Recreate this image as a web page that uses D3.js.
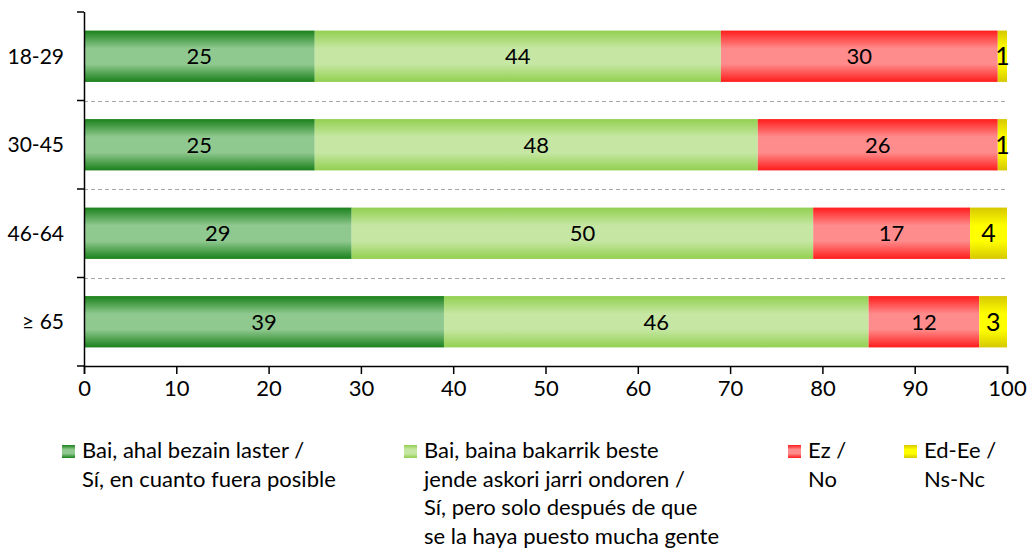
<!DOCTYPE html>
<html>
<head>
<meta charset="utf-8">
<script src="https://cdn.jsdelivr.net/npm/d3@7"></script>
<style>
  body { margin: 0; background: #fff; }
  text { font-family: Lato, "Open Sans", sans-serif; fill: #000; }
</style>
</head>
<body>
<div id="chart"></div>
<script>
const groups = ["18-29", "30-45", "46-64", "≥ 65"];
const asap = [25, 25, 29, 39];
const afterOthers = [44, 48, 50, 46];
const no = [30, 26, 17, 12];
const dkna = [1, 1, 4, 3];
const xTicks = [0, 10, 20, 30, 40, 50, 60, 70, 80, 90, 100];

const legendLabels = [
  ["Bai, ahal bezain laster /", "Sí, en cuanto fuera posible"],
  ["Bai, baina bakarrik beste", "jende askori jarri ondoren /", "Sí, pero solo después de que", "se la haya puesto mucha gente"],
  ["Ez /", "No"],
  ["Ed-Ee /", "Ns-Nc"]
];

const width = 1031, height = 548;
const margin = { top: 12, right: 24, bottom: 182, left: 84 };

const svg = d3.select("#chart").append("svg")
  .attr("width", width)
  .attr("height", height);

// gradients: dark edges, light middle
const colours = [
  { id: "g0", edge: "#1a811a", mid: "#90c990" },
  { id: "g1", edge: "#92d050", mid: "#c6e7a3" },
  { id: "g2", edge: "#ff1c1c", mid: "#ff8c8c" },
  { id: "g3", edge: "#d6c800", mid: "#ffff00" }
];
const defs = svg.append("defs");
colours.forEach(c => {
  const g = defs.append("linearGradient")
    .attr("id", c.id).attr("x1", 0).attr("y1", 0).attr("x2", 0).attr("y2", 1);
  g.append("stop").attr("offset", "0%").attr("stop-color", c.edge);
  g.append("stop").attr("offset", "35%").attr("stop-color", c.mid);
  g.append("stop").attr("offset", "65%").attr("stop-color", c.mid);
  g.append("stop").attr("offset", "100%").attr("stop-color", c.edge);
});

const x = d3.scaleLinear().domain([0, 100]).range([margin.left, width - margin.right]);
const y = d3.scaleBand().domain(groups).range([margin.top, height - margin.bottom]).paddingInner(0.42).paddingOuter(0.21);

const series = [asap, afterOthers, no, dkna];
const rows = groups.map((g, i) => {
  let acc = 0;
  return series.map((s, k) => {
    const d = { group: g, k: k, v: s[i], x0: acc, x1: acc + s[i] };
    acc += s[i];
    return d;
  });
});

// dashed separators between categories
const step = y.step();
svg.append("g").selectAll("line")
  .data(groups.slice(1))
  .enter().append("line")
  .attr("x1", margin.left).attr("x2", x(100))
  .attr("y1", d => Math.round(y(d) - step * 0.21) + 0.5)
  .attr("y2", d => Math.round(y(d) - step * 0.21) + 0.5)
  .attr("stroke", "#a6a6a6")
  .attr("stroke-dasharray", "4,3");

// bars
const rowG = svg.append("g").selectAll("g")
  .data(rows)
  .enter().append("g");

rowG.selectAll("rect")
  .data(d => d)
  .enter().append("rect")
  .attr("x", d => x(d.x0))
  .attr("y", d => y(d.group))
  .attr("width", d => x(d.x1) - x(d.x0))
  .attr("height", y.bandwidth())
  .attr("fill", d => "url(#" + colours[d.k].id + ")");

rowG.selectAll("text")
  .data(d => d)
  .enter().append("text")
  .attr("x", d => (x(d.x0) + x(d.x1)) / 2)
  .attr("y", d => y(d.group) + y.bandwidth() / 2)
  .attr("dy", "0.36em")
  .attr("text-anchor", "middle")
  .style("font-size", d => d.k === 3 ? "25px" : "22px")
  .text(d => d.v);

// left axis
const yAxis = svg.append("g").attr("transform", `translate(${margin.left},0)`);
yAxis.append("line")
  .attr("x1", 0.5).attr("x2", 0.5)
  .attr("y1", margin.top).attr("y2", height - margin.bottom)
  .attr("stroke", "#000").attr("stroke-width", 1.5);
const boundaries = d3.range(groups.length + 1).map(i => margin.top + i * step);
yAxis.selectAll("line.tick")
  .data(boundaries)
  .enter().append("line")
  .attr("class", "tick")
  .attr("x1", -7).attr("x2", 0)
  .attr("y1", d => d).attr("y2", d => d)
  .attr("stroke", "#000").attr("stroke-width", 1.5);
yAxis.selectAll("text")
  .data(groups)
  .enter().append("text")
  .attr("x", -20)
  .attr("y", d => y(d) + y.bandwidth() / 2)
  .attr("dy", "0.36em")
  .attr("text-anchor", "end")
  .style("font-size", "21px")
  .text(d => d);

// bottom axis
const xAxis = svg.append("g")
  .attr("transform", `translate(0,${height - margin.bottom})`)
  .call(d3.axisBottom(x).tickValues(xTicks).tickSize(8).tickPadding(6));
xAxis.select(".domain").attr("stroke", "#000").attr("stroke-width", 1.5);
xAxis.selectAll(".tick line").attr("stroke", "#000").attr("stroke-width", 1.5);
xAxis.selectAll(".tick text")
  .style("font-size", "22px")
  .style("font-family", "Lato, 'Open Sans', sans-serif")
  .attr("fill", "#000");

// legend
const legendX = [62, 404, 788, 904];
const legend = svg.append("g").selectAll("g")
  .data(legendLabels)
  .enter().append("g")
  .attr("transform", (d, i) => `translate(${legendX[i]},438)`);
legend.append("rect")
  .attr("x", 0).attr("y", 7)
  .attr("width", 13).attr("height", 13)
  .attr("fill", (d, i) => "url(#" + colours[i].id + ")");
legend.selectAll("text")
  .data(d => d)
  .enter().append("text")
  .attr("x", 20)
  .attr("y", (d, j) => 20 + j * 28.5)
  .style("font-size", "22px")
  .text(d => d);
</script>
</body>
</html>
